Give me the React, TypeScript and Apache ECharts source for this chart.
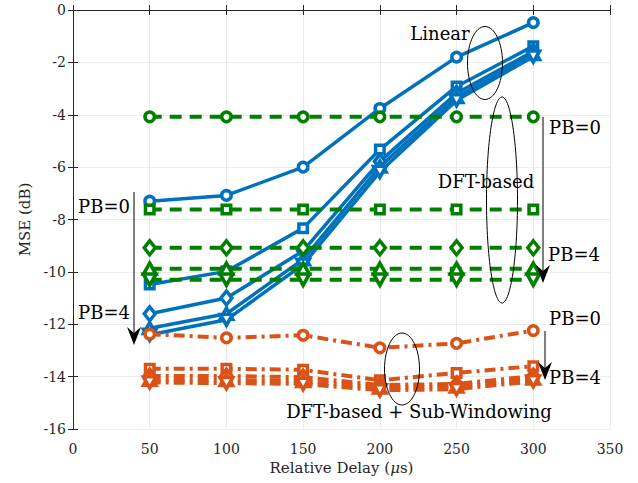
import React, { useEffect, useRef } from "react";
import * as echarts from "echarts";

const delays = [50, 100, 150, 200, 250, 300];
const xTicks = [0, 350, 50];
const yTicks = [-16, 0, 2];

// Linear interpolation (blue, solid)
const linPB0 = [-7.3, -7.08, -6.0, -3.76, -1.8, -0.48];
const linPB1 = [-10.48, -9.98, -8.33, -5.33, -2.92, -1.38];
const linPB2 = [-11.6, -11.0, -9.2, -5.78, -3.18, -1.58];
const linPB3 = [-12.15, -11.6, -9.52, -5.98, -3.33, -1.68];
const linPB4 = [-12.4, -11.83, -9.72, -6.18, -3.45, -1.78];

// DFT-based (green, dashed)
const dftPB0 = [-4.08, -4.08, -4.08, -4.08, -4.08, -4.08];
const dftPB1 = [-7.62, -7.62, -7.62, -7.62, -7.62, -7.62];
const dftPB2 = [-9.08, -9.08, -9.08, -9.08, -9.08, -9.08];
const dftPB3 = [-9.88, -9.88, -9.88, -9.88, -9.88, -9.88];
const dftPB4 = [-10.3, -10.3, -10.3, -10.3, -10.3, -10.3];

// DFT-based + Sub-Windowing (orange, dash-dot)
const swPB0 = [-12.38, -12.52, -12.42, -12.9, -12.73, -12.24];
const swPB1 = [-13.7, -13.7, -13.74, -14.14, -13.86, -13.6];
const swPB2 = [-13.98, -13.98, -14.02, -14.32, -14.28, -13.98];
const swPB3 = [-14.12, -14.13, -14.17, -14.42, -14.38, -14.08];
const swPB4 = [-14.22, -14.25, -14.28, -14.52, -14.48, -14.18];

const BLUE = "#0072BD";
const GREEN = "#008000";
const ORANGE = "#D95319";
const FONT = "DejaVu Serif";

const symbols: [string, number][] = [
  ["circle", 0],
  ["rect", 0],
  ["diamond", 0],
  ["triangle", 0],
  ["triangle", 180],
];

function mk(name: string, vals: number[], color: string, idx: number, lineType: any, width: number, z: number) {
  const [sym, rot] = symbols[idx];
  const size = sym === "circle" ? 9.5 : sym === "rect" ? 8.5 : sym === "diamond" ? [11, 14] : [12.5, 11];
  return {
    name,
    type: "line",
    xAxisIndex: 0,
    yAxisIndex: 0,
    data: delays.map((d, i) => [d, vals[i]]),
    symbol: sym,
    symbolRotate: rot,
    symbolSize: size,
    showAllSymbol: true,
    lineStyle: { color, width, type: lineType },
    itemStyle: { color: "#ffffff", borderColor: color, borderWidth: 3.5 },
    z,
  };
}

export default function App() {
  const ref = useRef<HTMLDivElement>(null);
  useEffect(() => {
    if (!ref.current) return;
    const chart = echarts.init(ref.current, null, { renderer: "svg" });
    const textStyle = (t: string, x: number, y: number, size = 18, align = "center") => ({
      type: "text",
      style: { text: t, x, y, fontSize: size, fontFamily: FONT, fill: "#000", align, verticalAlign: "middle" },
      z: 100,
    });
    const vline = (x: number, y1: number, y2: number) => ({
      type: "line",
      shape: { x1: x, y1, x2: x, y2: y2 - 6 },
      style: { stroke: "#000", lineWidth: 1 },
      z: 100,
    });
    const head = (x: number, y: number, w = 7, h = 18) => ({
      type: "polygon",
      shape: { points: [[x, y], [x - w, y - h], [x, y - h + 6], [x + w, y - h]] },
      style: { fill: "#000" },
      z: 100,
    });
    const ell = (cx: number, cy: number, rx: number, ry: number) => ({
      type: "ellipse",
      shape: { cx, cy, rx, ry },
      style: { fill: "none", stroke: "#000", lineWidth: 1 },
      z: 100,
    });
    const option: any = {
      animation: false,
      backgroundColor: "#fff",
      textStyle: { fontFamily: FONT },
      grid: { left: 73, right: 28, top: 10, bottom: 54 },
      xAxis: [
        {
          type: "value",
          min: xTicks[0],
          max: xTicks[1],
          interval: xTicks[2],
          position: "bottom",
          axisLine: { show: true, lineStyle: { color: "#262626", width: 1 } },
          axisTick: { show: true, inside: true, length: 5, lineStyle: { color: "#262626" } },
          axisLabel: { color: "#262626", fontFamily: FONT, fontSize: 14, margin: 13 },
          splitLine: { show: true, lineStyle: { color: "#ececec", width: 1 } },
          name: "{a|Relative Delay (}{b|μ}{a|s)}",
          nameLocation: "middle",
          nameGap: 28,
          nameTextStyle: {
            fontFamily: FONT,
            rich: {
              a: { fontFamily: FONT, fontSize: 15, color: "#262626" },
              b: { fontFamily: FONT, fontSize: 15, color: "#262626", fontStyle: "italic" },
            },
          },
        },
        {
          type: "value",
          min: xTicks[0],
          max: xTicks[1],
          interval: xTicks[2],
          position: "top",
          axisLine: { show: true, lineStyle: { color: "#262626", width: 1 } },
          axisTick: { show: true, inside: true, length: 5, lineStyle: { color: "#262626" } },
          axisLabel: { show: false },
          splitLine: { show: false },
        },
      ],
      yAxis: [
        {
          type: "value",
          min: yTicks[0],
          max: yTicks[1],
          interval: yTicks[2],
          position: "left",
          axisLine: { show: true, lineStyle: { color: "#262626", width: 1 } },
          axisTick: { show: true, inside: true, length: 5, lineStyle: { color: "#262626" } },
          axisLabel: { color: "#262626", fontFamily: FONT, fontSize: 14, margin: 7 },
          splitLine: { show: true, lineStyle: { color: "#ececec", width: 1 } },
          name: "MSE (dB)",
          nameLocation: "middle",
          nameGap: 40,
          nameTextStyle: { fontFamily: FONT, fontSize: 15, color: "#262626" },
        },
        {
          type: "value",
          min: yTicks[0],
          max: yTicks[1],
          interval: yTicks[2],
          position: "right",
          axisLine: { show: true, lineStyle: { color: "#262626", width: 1 } },
          axisTick: { show: true, inside: true, length: 5, lineStyle: { color: "#262626" } },
          axisLabel: { show: false },
          splitLine: { show: false },
        },
      ],
      series: [
        mk("Linear PB=0", linPB0, BLUE, 0, "solid", 3.5, 2),
        mk("Linear PB=1", linPB1, BLUE, 1, "solid", 3.5, 2),
        mk("Linear PB=2", linPB2, BLUE, 2, "solid", 3.5, 2),
        mk("Linear PB=3", linPB3, BLUE, 3, "solid", 3.5, 2),
        mk("Linear PB=4", linPB4, BLUE, 4, "solid", 3.5, 2),
        mk("DFT PB=0", dftPB0, GREEN, 0, [12, 8], 4, 3),
        mk("DFT PB=1", dftPB1, GREEN, 1, [12, 8], 4, 3),
        mk("DFT PB=2", dftPB2, GREEN, 2, [12, 8], 4, 3),
        mk("DFT PB=3", dftPB3, GREEN, 3, [12, 8], 4, 3),
        mk("DFT PB=4", dftPB4, GREEN, 4, [12, 8], 4, 3),
        mk("SW PB=0", swPB0, ORANGE, 0, [11, 5, 3, 5], 4, 4),
        mk("SW PB=1", swPB1, ORANGE, 1, [11, 5, 3, 5], 4, 4),
        mk("SW PB=2", swPB2, ORANGE, 2, [11, 5, 3, 5], 4, 4),
        mk("SW PB=3", swPB3, ORANGE, 3, [11, 5, 3, 5], 4, 4),
        mk("SW PB=4", swPB4, ORANGE, 4, [11, 5, 3, 5], 4, 4),
      ],
      graphic: [
        textStyle("Linear", 440, 33),
        ell(485, 63, 17.5, 36.5),
        textStyle("DFT-based", 486, 181),
        ell(502, 200, 15.5, 103),
        ell(402, 369, 17.5, 36),
        textStyle("DFT-based + Sub-Windowing", 419, 411),
        textStyle("PB=0", 104, 206),
        textStyle("PB=4", 104, 312),
        vline(134, 192, 345),
        head(134, 345),
        textStyle("PB=0", 575, 127),
        textStyle("PB=4", 574, 254),
        vline(543, 117, 283),
        head(543, 283),
        textStyle("PB=0", 575, 318),
        textStyle("PB=4", 575, 377),
        vline(545, 331, 380),
        head(545, 380),
      ],
    };
    chart.setOption(option);
    return () => chart.dispose();
  }, []);
  return <div ref={ref} style={{ position: "absolute", left: 0, top: 0, width: 638, height: 483 }} />;
}
